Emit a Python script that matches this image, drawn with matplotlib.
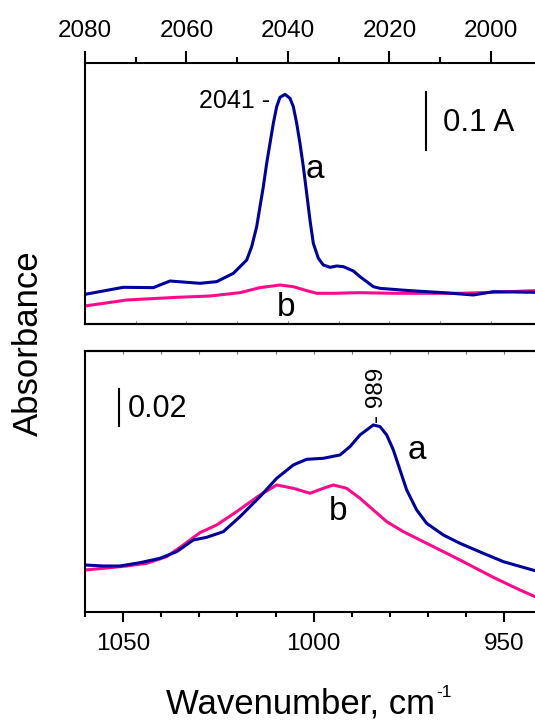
import matplotlib
matplotlib.use("Agg")
import matplotlib.pyplot as plt
from matplotlib.ticker import MultipleLocator

plt.rcParams['font.family'] = ['Liberation Sans', 'DejaVu Sans']
plt.rcParams['mathtext.default'] = 'regular'

# ---- upper panel (CO region) ----
top_wn_a = [2080.0, 2072.45, 2066.54, 2063.25, 2057.34, 2054.06, 2050.77, 2048.14, 2047.16,
            2046.17, 2045.52, 2044.86, 2044.20, 2043.55, 2042.89, 2042.23, 2041.58, 2040.59,
            2039.61, 2038.95, 2038.29, 2037.64, 2036.98, 2036.32, 2035.67, 2035.01, 2034.02,
            2033.04, 2031.72, 2030.41, 2029.10, 2027.13, 2025.81, 2024.50, 2023.19, 2021.87,
            2015.96, 2009.39, 2003.48, 1999.54, 1991.33]
top_abs_a = [0.0514, 0.0636, 0.0630, 0.0745, 0.0705, 0.0734, 0.0878, 0.1109, 0.1340,
             0.1687, 0.2034, 0.2380, 0.2785, 0.3131, 0.3478, 0.3767, 0.3928, 0.3980,
             0.3911, 0.3767, 0.3478, 0.3131, 0.2727, 0.2265, 0.1802, 0.1398, 0.1138,
             0.1023, 0.0982, 0.1005, 0.0994, 0.0919, 0.0820, 0.0734, 0.0647, 0.0618,
             0.0578, 0.0543, 0.0503, 0.0560, 0.0549]
top_wn_b = [2080.0, 2071.79, 2061.94, 2055.37, 2049.46, 2045.52, 2041.58, 2038.95, 2036.32,
            2034.35, 2031.07, 2025.81, 2019.24, 2012.68, 2006.11, 1999.54, 1991.33]
top_abs_b = [0.0312, 0.0416, 0.0462, 0.0485, 0.0543, 0.0630, 0.0676, 0.0647, 0.0578,
             0.0532, 0.0532, 0.0543, 0.0532, 0.0532, 0.0532, 0.0549, 0.0578]

# ---- lower panel ----
bot_wn_a = [1060.0, 1055.19, 1050.81, 1045.56, 1040.31, 1035.94, 1031.57, 1028.07, 1023.69,
            1019.32, 1014.07, 1009.69, 1005.32, 1001.82, 997.45, 993.07, 990.45, 987.82,
            984.32, 982.57, 980.82, 979.07, 977.32, 975.57, 972.95, 970.32, 965.95, 961.58,
            955.45, 950.20, 941.89]
bot_abs_a = [0.02561, 0.02507, 0.02507, 0.02688, 0.02925, 0.03288, 0.03924, 0.04069, 0.04378,
             0.05195, 0.06285, 0.07284, 0.08011, 0.08320, 0.08374, 0.08556, 0.09010, 0.09646,
             0.10191, 0.10100, 0.09646, 0.08828, 0.07738, 0.06649, 0.05559, 0.04832, 0.04196,
             0.03742, 0.03197, 0.02743, 0.02252]
bot_wn_b = [1060.0, 1055.19, 1049.06, 1043.81, 1038.56, 1034.19, 1029.82, 1025.44, 1020.19,
            1014.07, 1009.69, 1005.32, 1000.94, 997.45, 994.82, 991.32, 987.82, 984.32,
            980.82, 976.45, 970.32, 961.58, 952.83, 945.83, 941.89]
bot_abs_b = [0.02289, 0.02380, 0.02507, 0.02652, 0.03015, 0.03651, 0.04323, 0.04741, 0.05468,
             0.06376, 0.06921, 0.06739, 0.06467, 0.06739, 0.06921, 0.06739, 0.06194, 0.05559,
             0.04923, 0.04378, 0.03742, 0.02834, 0.01889, 0.01199, 0.00836]

top_ticks = [2080, 2060, 2040, 2020, 2000]
bot_ticks = [1050, 1000, 950]

BLUE = '#00009c'
PINK = '#ff0a8a'
LW = 2.2

fig = plt.figure(figsize=(5.35, 7.2), dpi=100)
ax1 = fig.add_axes([85/535, 0.55, 450/535, 0.3625])
ax2 = fig.add_axes([85/535, 0.15, 450/535, 0.3625])

for ax in (ax1, ax2):
    for s in ('left', 'top', 'bottom'):
        ax.spines[s].set_linewidth(1.5)
    ax.spines['right'].set_visible(False)
    ax.set_yticks([])
    ax.tick_params(axis='y', left=False, labelleft=False)

line_kw = dict(lw=LW, solid_joinstyle='round', solid_capstyle='round')

# upper
ax1.plot(top_wn_b, top_abs_b, color=PINK, **line_kw)
ax1.plot(top_wn_a, top_abs_a, color=BLUE, **line_kw)
ax1.set_xlim(2080, 1991.33)
ax1.set_ylim(0, 0.4523)
ax1.xaxis.tick_top()
ax1.set_xticks(top_ticks)
ax1.xaxis.set_minor_locator(MultipleLocator(10))
ax1.tick_params(axis='x', which='major', direction='out', length=9, width=1.5,
                labelsize=17.5, pad=6, top=True, bottom=False, labeltop=True, labelbottom=False)
ax1.tick_params(axis='x', which='minor', direction='out', length=4.5, width=1.5,
                top=True, bottom=False)
sec1 = ax1.secondary_xaxis('bottom')
sec1.set_xticks(list(range(2080, 1990, -10)))
sec1.tick_params(direction='in', length=2, width=0.8, color='#777777', labelbottom=False)
sec1.spines['bottom'].set_linewidth(1.5)

ax1.text(2043.55, 0.3738, '2041 -', fontsize=18, ha='right', va='baseline')
ax1.text(2034.68, 0.2525, 'a', fontsize=24, ha='center', va='baseline')
ax1.text(2040.39, 0.0139, 'b', fontsize=24, ha='center', va='baseline')
ax1.plot([2012.88, 2012.88], [0.3016, 0.4016], color='black', lw=1.5)
ax1.text(2009.46, 0.335, '0.1 A', fontsize=22.5, ha='left', va='baseline')

# lower
ax2.plot(bot_wn_b, bot_abs_b, color=PINK, **line_kw)
ax2.plot(bot_wn_a, bot_abs_a, color=BLUE, **line_kw)
ax2.set_xlim(1060, 941.89)
ax2.set_ylim(0, 0.1422)
ax2.set_xticks(bot_ticks)
ax2.xaxis.set_minor_locator(MultipleLocator(10))
ax2.tick_params(axis='x', which='major', direction='out', length=7, width=1.5,
                labelsize=17.5, pad=8, top=False)
ax2.tick_params(axis='x', which='minor', direction='out', length=3.5, width=1.5, top=False)
sec2 = ax2.secondary_xaxis('top')
sec2.set_xticks(list(range(1060, 940, -10)))
sec2.tick_params(direction='in', length=2, width=0.8, color='#777777', labeltop=False)
sec2.spines['top'].set_linewidth(1.5)

ax2.plot([1051.08, 1051.08], [0.1015, 0.1215], color='black', lw=1.5)
ax2.text(1048.71, 0.1064, '0.02', fontsize=22, ha='left', va='baseline')
ax2.text(983.36, 0.103, '- 989', fontsize=17.5, rotation=90, ha='center', va='bottom')
ax2.text(972.94, 0.0834, 'a', fontsize=24, ha='center', va='baseline')
ax2.text(993.6, 0.0501, 'b', fontsize=24, ha='center', va='baseline')

fig.text(28/535, (720-343)/720, 'Absorbance', rotation=90, fontsize=25,
         ha='center', va='center')

# x-axis title with a hyphen-style superscript
xl = fig.text(166/535, 7/720, 'Wavenumber, cm', fontsize=25, ha='left', va='baseline')
fig.canvas.draw()
bb = xl.get_window_extent(renderer=fig.canvas.get_renderer())
fig.text(bb.x1/fig.bbox.width + 1/535, 23/720, '-1', fontsize=12.5, ha='left', va='baseline')

fig.savefig('out.png', dpi=100)
